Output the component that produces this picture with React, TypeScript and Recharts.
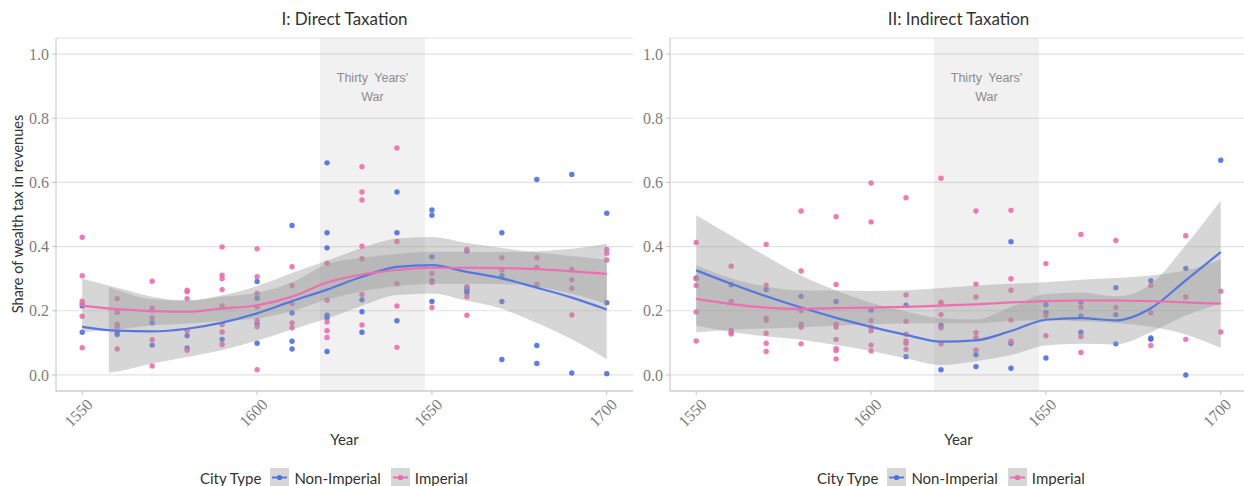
import React from "react";
import {
  ComposedChart,
  XAxis,
  YAxis,
  CartesianGrid,
  Line,
  Area,
  Scatter,
  ReferenceArea,
} from "recharts";

// colours and fonts
const BLUE = "#4a6fe3";
const PINK = "#ee6aae";
const BLUE_LINE = "#5777e0";
const PINK_LINE = "#ee6fb0";
const LABEL_FONT = "Lato, 'Open Sans', sans-serif";
const TICK_FONT = "'Liberation Serif', serif";

// decades at which the smoothed fits were read
const fitYears = [1550, 1560, 1570, 1580, 1590, 1600, 1610, 1620, 1630, 1640, 1650, 1660, 1670, 1680, 1690, 1700];
const yTicks = [0, 0.2, 0.4, 0.6, 0.8, 1.0];
const xTicks = [1550, 1600, 1650, 1700];
const warYears = [1618, 1648];

// I: Direct taxation, smoothed fits and bands
const directNonImpFit = [0.150, 0.138, 0.136, 0.144, 0.163, 0.192, 0.230, 0.266, 0.306, 0.337, 0.342, 0.321, 0.301, 0.272, 0.241, 0.204];
const directNonImpLo = [null, 0.011, 0.036, 0.056, 0.078, 0.107, 0.142, 0.176, 0.216, 0.249, 0.254, 0.231, 0.206, 0.162, 0.111, 0.049];
const directNonImpHi = [null, 0.265, 0.236, 0.232, 0.248, 0.277, 0.318, 0.356, 0.396, 0.425, 0.430, 0.411, 0.396, 0.382, 0.371, 0.359];
// band is cut where its lower edge drops under 0, it starts again here
const directNonImpBandStart = { year: 1557.6, lo: 0.007, hi: 0.274 };
const directImpFit = [0.216, 0.205, 0.199, 0.197, 0.207, 0.217, 0.244, 0.288, 0.313, 0.327, 0.334, 0.334, 0.333, 0.330, 0.323, 0.315];
const directImpLo = [0.134, 0.142, 0.154, 0.160, 0.168, 0.176, 0.199, 0.235, 0.261, 0.277, 0.284, 0.284, 0.283, 0.275, 0.253, 0.221];
const directImpHi = [0.300, 0.272, 0.244, 0.232, 0.244, 0.256, 0.289, 0.345, 0.365, 0.377, 0.384, 0.384, 0.383, 0.385, 0.393, 0.409];

// II: Indirect taxation, smoothed fits and bands
const indirectNonImpFit = [0.326, 0.284, 0.245, 0.210, 0.178, 0.150, 0.125, 0.104, 0.108, 0.137, 0.172, 0.177, 0.170, 0.208, 0.295, 0.383];
const indirectNonImpLo = [0.154, 0.134, 0.120, 0.110, 0.093, 0.075, 0.052, 0.031, 0.043, 0.062, 0.092, 0.097, 0.095, 0.133, 0.185, 0.223];
const indirectNonImpHi = [0.498, 0.434, 0.370, 0.310, 0.263, 0.225, 0.198, 0.177, 0.173, 0.212, 0.252, 0.257, 0.245, 0.283, 0.405, 0.543];
const indirectImpFit = [0.237, 0.221, 0.210, 0.206, 0.208, 0.210, 0.212, 0.216, 0.220, 0.226, 0.230, 0.232, 0.232, 0.230, 0.226, 0.222];
const indirectImpLo = [0.132, 0.141, 0.145, 0.148, 0.153, 0.158, 0.160, 0.161, 0.161, 0.168, 0.171, 0.167, 0.162, 0.150, 0.126, 0.084];
const indirectImpHi = [0.342, 0.301, 0.275, 0.264, 0.263, 0.262, 0.264, 0.271, 0.279, 0.284, 0.289, 0.297, 0.302, 0.310, 0.326, 0.360];

// observed cities: [year, share]
const directNonImpPts = [
  [1550, 0.215], [1550, 0.133], [1560, 0.132], [1560, 0.126], [1570, 0.163], [1570, 0.093],
  [1580, 0.122], [1580, 0.084], [1590, 0.111], [1600, 0.291], [1600, 0.239], [1600, 0.160],
  [1600, 0.099], [1610, 0.466], [1610, 0.193], [1610, 0.105], [1610, 0.081], [1620, 0.661],
  [1620, 0.443], [1620, 0.396], [1620, 0.186], [1620, 0.178], [1620, 0.073], [1630, 0.234],
  [1630, 0.197], [1630, 0.133], [1640, 0.570], [1640, 0.443], [1640, 0.169], [1650, 0.514],
  [1650, 0.498], [1650, 0.368], [1650, 0.294], [1650, 0.229], [1660, 0.386], [1660, 0.271],
  [1660, 0.263], [1660, 0.256], [1670, 0.443], [1670, 0.309], [1670, 0.229], [1670, 0.048],
  [1680, 0.609], [1680, 0.092], [1680, 0.036], [1690, 0.625], [1690, 0.006], [1700, 0.504],
  [1700, 0.225], [1700, 0.004],
];
const directImpPts = [
  [1550, 0.429], [1550, 0.309], [1550, 0.230], [1550, 0.222], [1550, 0.183], [1550, 0.085],
  [1560, 0.238], [1560, 0.195], [1560, 0.158], [1560, 0.150], [1560, 0.081], [1570, 0.292],
  [1570, 0.209], [1570, 0.202], [1570, 0.178], [1570, 0.110], [1570, 0.028], [1580, 0.264],
  [1580, 0.259], [1580, 0.238], [1580, 0.138], [1580, 0.077], [1590, 0.399], [1590, 0.311],
  [1590, 0.300], [1590, 0.266], [1590, 0.215], [1590, 0.157], [1590, 0.134], [1590, 0.095],
  [1600, 0.393], [1600, 0.306], [1600, 0.254], [1600, 0.212], [1600, 0.170], [1600, 0.150],
  [1600, 0.016], [1610, 0.337], [1610, 0.278], [1610, 0.223], [1610, 0.162], [1610, 0.147],
  [1620, 0.348], [1620, 0.233], [1620, 0.165], [1620, 0.138], [1620, 0.117], [1630, 0.649],
  [1630, 0.570], [1630, 0.545], [1630, 0.401], [1630, 0.362], [1630, 0.251], [1630, 0.156],
  [1640, 0.707], [1640, 0.416], [1640, 0.284], [1640, 0.215], [1640, 0.086], [1650, 0.316],
  [1650, 0.288], [1650, 0.210], [1660, 0.391], [1660, 0.275], [1660, 0.244], [1660, 0.186],
  [1670, 0.365], [1670, 0.327], [1680, 0.365], [1680, 0.335], [1680, 0.282], [1690, 0.329],
  [1690, 0.297], [1690, 0.270], [1690, 0.187], [1700, 0.391], [1700, 0.379], [1700, 0.358],
];
const indirectNonImpPts = [
  [1550, 0.302], [1560, 0.281], [1570, 0.266], [1580, 0.245], [1590, 0.229], [1600, 0.202],
  [1610, 0.217], [1610, 0.057], [1620, 0.154], [1620, 0.016], [1630, 0.063], [1630, 0.026],
  [1640, 0.415], [1640, 0.098], [1640, 0.021], [1650, 0.219], [1650, 0.195], [1650, 0.053],
  [1660, 0.227], [1660, 0.184], [1660, 0.133], [1670, 0.272], [1670, 0.188], [1670, 0.097],
  [1680, 0.294], [1680, 0.115], [1680, 0.111], [1690, 0.332], [1690, 0.0], [1700, 0.669],
];
const indirectImpPts = [
  [1550, 0.413], [1550, 0.300], [1550, 0.279], [1550, 0.196], [1550, 0.106], [1560, 0.339],
  [1560, 0.229], [1560, 0.139], [1560, 0.133], [1560, 0.128], [1570, 0.407], [1570, 0.280],
  [1570, 0.177], [1570, 0.170], [1570, 0.130], [1570, 0.099], [1570, 0.073], [1580, 0.511],
  [1580, 0.324], [1580, 0.200], [1580, 0.158], [1580, 0.149], [1580, 0.097], [1590, 0.493],
  [1590, 0.282], [1590, 0.158], [1590, 0.149], [1590, 0.111], [1590, 0.082], [1590, 0.076],
  [1590, 0.050], [1600, 0.598], [1600, 0.477], [1600, 0.170], [1600, 0.149], [1600, 0.138],
  [1600, 0.093], [1600, 0.075], [1610, 0.552], [1610, 0.249], [1610, 0.167], [1610, 0.127],
  [1610, 0.106], [1610, 0.099], [1610, 0.080], [1620, 0.613], [1620, 0.227], [1620, 0.221],
  [1620, 0.188], [1620, 0.147], [1620, 0.097], [1630, 0.511], [1630, 0.283], [1630, 0.243],
  [1630, 0.132], [1630, 0.116], [1630, 0.078], [1640, 0.513], [1640, 0.300], [1640, 0.264],
  [1640, 0.171], [1640, 0.105], [1650, 0.347], [1650, 0.185], [1650, 0.122], [1660, 0.438],
  [1660, 0.211], [1660, 0.120], [1660, 0.070], [1670, 0.419], [1670, 0.210], [1680, 0.279],
  [1680, 0.194], [1680, 0.092], [1690, 0.434], [1690, 0.243], [1690, 0.111], [1700, 0.261],
  [1700, 0.134],
];

type Row = {
  year: number;
  nonImpFit?: number;
  impFit?: number;
  nonImpBand?: [number, number];
  impBand?: [number, number];
};

function buildRows(
  nonImpFit: number[], nonImpLo: (number | null)[], nonImpHi: (number | null)[],
  impFit: number[], impLo: number[], impHi: number[],
  extra?: { year: number; lo: number; hi: number }
): Row[] {
  const rows: Row[] = fitYears.map((year, i) => ({
    year,
    nonImpFit: nonImpFit[i],
    impFit: impFit[i],
    nonImpBand: nonImpLo[i] == null ? undefined : [nonImpLo[i] as number, nonImpHi[i] as number],
    impBand: [impLo[i], impHi[i]],
  }));
  if (extra) rows.push({ year: extra.year, nonImpBand: [extra.lo, extra.hi] });
  return rows.sort((a, b) => a.year - b.year);
}

const toPts = (pts: number[][]) => pts.map(([year, v]) => ({ year, v }));

const directRows = buildRows(directNonImpFit, directNonImpLo, directNonImpHi, directImpFit, directImpLo, directImpHi, directNonImpBandStart);
const indirectRows = buildRows(indirectNonImpFit, indirectNonImpLo, indirectNonImpHi, indirectImpFit, indirectImpLo, indirectImpHi);

const YearTick = (props: any) => {
  const { x, y, payload } = props;
  return (
    <g transform={`translate(${x + 3},${y})`}>
      <text transform="rotate(-45)" textAnchor="end" dy={12} fill="#7d7d7d" fontSize={16} fontFamily={TICK_FONT}>
        {payload.value}
      </text>
    </g>
  );
};

const WarLabel = (props: any) => {
  const vb = props.viewBox || {};
  const cx = vb.x + vb.width / 2;
  return (
    <text textAnchor="middle" fill="#8c8c8c" fontSize={12.5} fontFamily="'Liberation Sans', Arial, sans-serif" wordSpacing={3}>
      <tspan x={cx} y={vb.y + 44}>Thirty Years'</tspan>
      <tspan x={cx} y={vb.y + 63}>War</tspan>
    </text>
  );
};

const dot = (color: string) => (p: any) => (
  <circle cx={p.cx} cy={p.cy} r={2.7} fill={color} fillOpacity={0.9} />
);

function Panel({ rows, nonImpPts, impPts }: { rows: Row[]; nonImpPts: number[][]; impPts: number[][] }) {
  return (
    <ComposedChart width={640} height={440} data={rows} margin={{ top: 38, right: 7, left: 0, bottom: 0 }}>
      <CartesianGrid vertical={false} stroke="#e2e2e2" strokeWidth={1.2} />
      <ReferenceArea
        x1={warYears[0]}
        x2={warYears[1]}
        fill="#808080"
        fillOpacity={0.11}
        stroke="none"
        zIndex={-50}
        label={WarLabel}
      />
      <XAxis
        dataKey="year"
        type="number"
        domain={[1542.5, 1707.5]}
        ticks={xTicks}
        height={49}
        tick={YearTick}
        tickSize={4}
        stroke="#c4c4c4"
        allowDataOverflow
      />
      <YAxis
        type="number"
        domain={[-0.05, 1.05]}
        ticks={yTicks}
        width={56}
        tickSize={4}
        tickMargin={3}
        stroke="#c4c4c4"
        tickFormatter={(v: number) => v.toFixed(1)}
        tick={{ fill: "#7d7d7d", fontSize: 16, fontFamily: TICK_FONT }}
        allowDataOverflow
      />
      <Scatter data={toPts(nonImpPts)} dataKey="v" shape={dot(BLUE)} isAnimationActive={false} zIndex={50} />
      <Scatter data={toPts(impPts)} dataKey="v" shape={dot(PINK)} isAnimationActive={false} zIndex={50} />
      <Area dataKey="nonImpBand" type="monotone" fill="#999999" fillOpacity={0.4} stroke="none" connectNulls isAnimationActive={false} activeDot={false} zIndex={100} />
      <Area dataKey="impBand" type="monotone" fill="#999999" fillOpacity={0.4} stroke="none" connectNulls isAnimationActive={false} activeDot={false} zIndex={100} />
      <Line dataKey="nonImpFit" type="monotone" stroke={BLUE_LINE} strokeWidth={2.2} dot={false} connectNulls isAnimationActive={false} zIndex={400} />
      <Line dataKey="impFit" type="monotone" stroke={PINK_LINE} strokeWidth={2.2} dot={false} connectNulls isAnimationActive={false} zIndex={400} />
    </ComposedChart>
  );
}

const LegendKey = ({ color }: { color: string }) => (
  <svg width={19} height={19} style={{ display: "block" }}>
    <rect x={0} y={0} width={19} height={19} fill="#d6d6d6" />
    <line x1={2} x2={17} y1={9.5} y2={9.5} stroke={color} strokeWidth={1.8} />
    <circle cx={9.5} cy={9.5} r={2.6} fill={color} />
  </svg>
);

function PanelLegend({ left }: { left: number }) {
  return (
    <div style={{ position: "absolute", left, top: 468, display: "flex", alignItems: "center", fontSize: 15, color: "#333", gap: 5 }}>
      <span style={{ marginRight: 4 }}>City Type</span>
      <LegendKey color={BLUE} />
      <span style={{ marginRight: 5 }}>Non-Imperial</span>
      <LegendKey color={PINK} />
      <span>Imperial</span>
    </div>
  );
}

const text = (extra: React.CSSProperties): React.CSSProperties => ({
  position: "absolute",
  color: "#333",
  whiteSpace: "nowrap",
  ...extra,
});

export default function App() {
  return (
    <div style={{ position: "absolute", left: 0, top: 0, width: 1244, height: 486, overflow: "hidden", background: "#fff", fontFamily: LABEL_FONT }}>
      <div style={{ position: "absolute", left: 0, top: 0 }}>
        <Panel rows={directRows} nonImpPts={directNonImpPts} impPts={directImpPts} />
      </div>
      <div style={{ position: "absolute", left: 614, top: 0 }}>
        <Panel rows={indirectRows} nonImpPts={indirectNonImpPts} impPts={indirectImpPts} />
      </div>

      <div style={text({ left: 56, width: 577, top: 8, textAlign: "center", fontSize: 17 })}>I: Direct Taxation</div>
      <div style={text({ left: 670, width: 577, top: 8, textAlign: "center", fontSize: 17 })}>II: Indirect Taxation</div>

      <div style={text({ left: 56, width: 577, top: 430, textAlign: "center", fontSize: 15 })}>Year</div>
      <div style={text({ left: 670, width: 577, top: 430, textAlign: "center", fontSize: 15 })}>Year</div>

      <div style={text({ left: 17, top: 214, fontSize: 14.5, transform: "translate(-50%, -50%) rotate(-90deg)" })}>
        Share of wealth tax in revenues
      </div>

      <PanelLegend left={200} />
      <PanelLegend left={817} />
    </div>
  );
}
